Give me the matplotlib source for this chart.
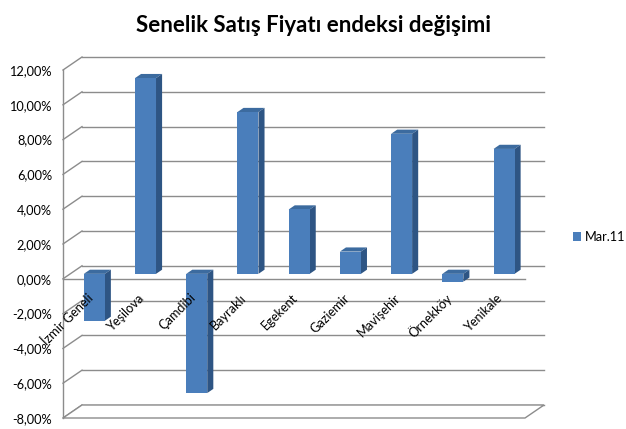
import matplotlib
matplotlib.use('Agg')
import matplotlib.pyplot as plt
from matplotlib.patches import Polygon, Patch
import numpy as np

categories = ['İzmir Geneli', 'Yeşilova', 'Çamdibi', 'Bayraklı', 'Egekent',
              'Gaziemir', 'Mavişehir', 'Örnekköy', 'Yenikale']
values = [-2.7, 11.25, -6.85, 9.3, 3.7, 1.28, 8.05, -0.45, 7.18]
series_name = 'Mar.11'
yticks = [-8, -6, -4, -2, 0, 2, 4, 6, 8, 10, 12]
title = 'Senelik Satış Fiyatı endeksi değişimi'

plt.rcParams['font.family'] = ['Lato', 'DejaVu Sans']

W, H = 626, 429
fig = plt.figure(figsize=(W / 100, H / 100), dpi=100)
L, R, T, B = 63, 525, 70, 418
ax = fig.add_axes([L / W, 1 - B / H, (R - L) / W, (B - T) / H])
xmin, xmax = -0.47, 8.55
ymin, ymax = -8, 12
ax.set_xlim(xmin, xmax)
ax.set_ylim(ymin, ymax)
pxx = (R - L) / (xmax - xmin)
pxy = (B - T) / (ymax - ymin)
ddx, ddy = 19 / pxx, 13 / pxy  # full depth in data units

grid_c = '#8c8c8c'
front_c = '#4A7EBB'
side_c = '#2E5584'
top_c = '#3C6B9F'

# back wall gridlines and left wall diagonals
for v in yticks:
    ax.plot([xmin + ddx, xmax + ddx], [v + ddy, v + ddy], color=grid_c, lw=1,
            clip_on=False, zorder=1)
    ax.plot([xmin, xmin + ddx], [v, v + ddy], color=grid_c, lw=1,
            clip_on=False, zorder=1)
# left front vertical
ax.plot([xmin, xmin], [ymin, ymax], color=grid_c, lw=1, clip_on=False, zorder=1)
# floor
floor = Polygon([(xmin, ymin), (xmax, ymin), (xmax + ddx, ymin + ddy),
                 (xmin + ddx, ymin + ddy)], closed=True, facecolor='white',
                edgecolor=grid_c, lw=1, clip_on=False, zorder=1.5)
ax.add_patch(floor)
# front zero axis line
ax.plot([xmin, xmax], [0, 0], color=grid_c, lw=1, clip_on=False, zorder=1.6)

# bars
x = np.arange(len(categories))
bw = 0.41
f0 = 0.38   # front face depth fraction
g = 0.32    # bar depth fraction
bx = x + f0 * ddx
by = f0 * ddy
vals = np.array(values)
for xi, v in zip(bx, vals):
    xl, xr = xi - bw / 2, xi + bw / 2
    yt = max(v, 0) + by
    yb = min(v, 0) + by
    top = Polygon([(xl, yt), (xr, yt), (xr + g * ddx, yt + g * ddy),
                   (xl + g * ddx, yt + g * ddy)], closed=True,
                  facecolor=top_c, edgecolor='none', clip_on=False, zorder=2)
    side = Polygon([(xr, yb), (xr, yt), (xr + g * ddx, yt + g * ddy),
                    (xr + g * ddx, yb + g * ddy)], closed=True,
                   facecolor=side_c, edgecolor='none', clip_on=False, zorder=2)
    ax.add_patch(top)
    ax.add_patch(side)
ax.bar(bx, vals, width=bw, bottom=by, color=front_c, edgecolor='none',
       zorder=3, clip_on=False)

# axis styling
for s in ax.spines.values():
    s.set_visible(False)
ax.set_xticks([])
ax.set_yticks(yticks)
ax.set_yticklabels([f'{v:.2f}'.replace('.', ',') + '%' for v in yticks],
                   fontsize=9.2, color='#000000')
ax.tick_params(axis='y', length=0, pad=8)
ax.patch.set_alpha(0)

# category labels
for xi, c in zip(x, categories):
    ax.text(xi + 4 / pxx, -17 / pxy, c, rotation=45, rotation_mode='anchor',
            ha='right', va='center', fontsize=9.2, clip_on=False)

# legend
fig.legend(handles=[Patch(facecolor=front_c, edgecolor='none')],
           labels=[series_name], loc='center left',
           bbox_to_anchor=(573 / W, 1 - 237 / H), frameon=False,
           borderpad=0, borderaxespad=0,
           handlelength=0.6, handleheight=0.6, handletextpad=0.3,
           fontsize=9.2)

fig.text(0.5, 1 - 25 / H, title, ha='center', va='center', fontsize=16,
         fontweight='bold')

fig.savefig('out.png', dpi=100)
